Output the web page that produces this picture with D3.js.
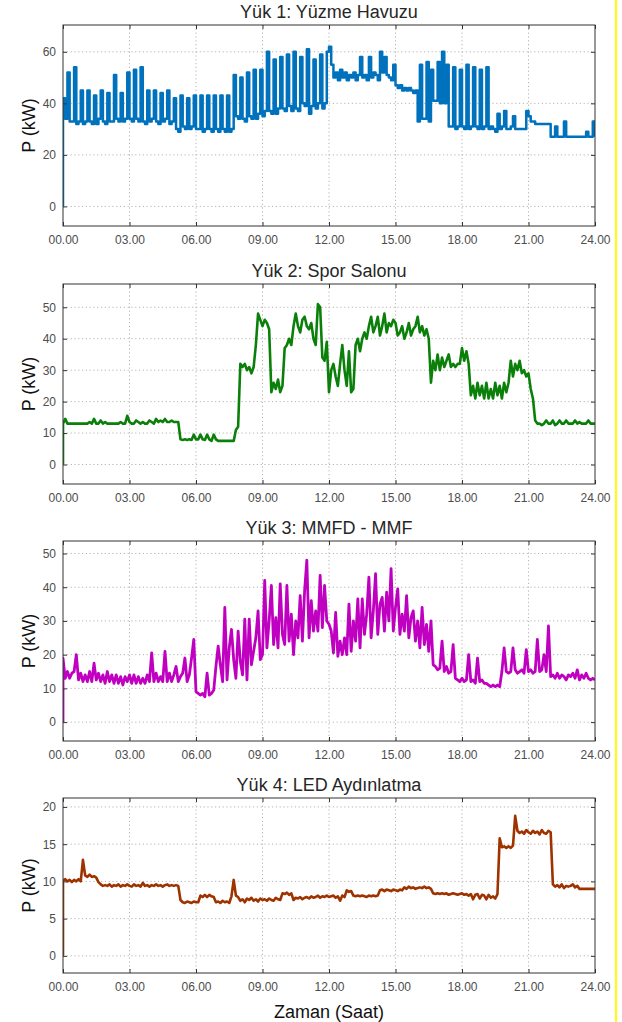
<!DOCTYPE html>
<html>
<head>
<meta charset="utf-8">
<script src="https://cdn.jsdelivr.net/npm/d3@7"></script>
<style>
  body { margin: 0; background: #fff; }
  svg { display: block; font-family: "Liberation Sans", Arial, sans-serif; }
  .tick text { fill: #4d4d4d; font-size: 12px; }
  .grid line { stroke: #b4b4b4; stroke-dasharray: 1.2 2.6; }
</style>
</head>
<body>
<svg id="chart" width="622" height="1022"></svg>
<script>
// sampled every 0.1 h, 00.00 .. 24.00 (241 values); each trace starts from 0 at t = 0
var startValue = 0;

var titles = ['Yük 1: Yüzme Havuzu', 'Yük 2: Spor Salonu', 'Yük 3: MMFD - MMF', 'Yük 4: LED Aydınlatma'];
var xTicks = [0, 3, 6, 9, 12, 15, 18, 21, 24];
var yTicks = [[0, 20, 40, 60], [0, 10, 20, 30, 40, 50], [0, 10, 20, 30, 40, 50], [0, 5, 10, 15, 20]];
var yLimits = [[-7.6, 70.4], [-6.2, 57.4], [-5.6, 53.7], [-2.3, 21.2]];

var pool = [
  42, 34, 52, 33, 33, 54, 32, 33, 45, 32,
  33, 45, 33, 32, 43, 32, 34, 45, 33, 32,
  44, 33, 33, 51, 34, 33, 44, 33, 34, 52,
  34, 33, 53, 34, 33, 54, 33, 32, 45, 33,
  34, 45, 33, 32, 44, 33, 34, 45, 32, 33,
  42, 30, 29, 43, 31, 30, 42, 30, 31, 43,
  30, 30, 43, 29, 30, 43, 30, 29, 43, 30,
  29, 43, 30, 29, 43, 29, 30, 51, 35, 34,
  50, 34, 33, 52, 35, 34, 53, 34, 36, 53,
  35, 37, 60, 37, 36, 57, 36, 38, 58, 38,
  37, 59, 39, 37, 60, 38, 37, 58, 40, 39,
  61, 36, 39, 57, 38, 40, 59, 38, 40, 60,
  62, 55, 50, 52, 49, 53, 50, 52, 49, 51,
  50, 52, 49, 51, 58, 50, 51, 49, 58, 50,
  52, 51, 49, 60, 52, 58, 51, 50, 49, 55,
  47, 46, 47, 45, 46, 45, 46, 45, 44, 45,
  33, 55, 34, 34, 56, 33, 53, 41, 41, 56,
  40, 60, 40, 55, 31, 31, 54, 30, 31, 53,
  31, 30, 55, 30, 31, 54, 31, 30, 53, 30,
  31, 54, 30, 31, 30, 29, 36, 30, 31, 37,
  30, 30, 31, 35, 30, 30, 30, 30, 30, 37,
  35, 33, 33, 32, 32, 32, 32, 32, 32, 32,
  27, 27, 31, 27, 27, 27, 33, 27, 27, 27,
  27, 27, 27, 27, 27, 27, 29, 27, 27, 33,
  27
];

var gym = [
  13, 14.5, 13, 13, 13, 13, 13, 13, 13, 13,
  13, 13, 13.5, 13, 14.5, 13, 13, 14, 13, 13.5,
  13, 13, 13, 13, 13, 13, 13.5, 13, 13, 15.5,
  13.5, 13, 13, 14, 13.5, 13, 13.5, 13, 13, 14,
  13.5, 13, 14.5, 13.5, 14, 13.5, 14.5, 13.5, 13.5, 14,
  13.5, 13.5, 13.5, 8, 7.8, 8, 7.8, 8, 7.8, 9.5,
  8, 8, 9.5, 8, 7.8, 9.5, 8, 7.5, 9.5, 8,
  7.5, 7.5, 7.5, 7.5, 7.5, 7.5, 7.5, 7.5, 11, 12,
  32, 31, 32, 30, 31, 29, 31, 38, 48, 46,
  44, 46, 45, 43, 23, 26, 24, 27, 23, 25,
  37, 38, 40, 38, 44, 48, 44, 42, 46, 47,
  44, 43, 45, 40, 38, 51, 50, 34, 33, 39,
  23, 30, 32, 28, 25, 32, 38, 30, 25, 36,
  23, 24, 38, 40, 36, 40, 42, 40, 44, 47,
  42, 44, 47, 41, 44, 48, 42, 45, 44, 46,
  45, 41, 42, 44, 40, 42, 45, 41, 43, 44,
  47, 42, 44, 41, 43, 40, 26, 33, 30, 35,
  30, 34, 31, 33, 35, 31, 32, 31, 32, 32,
  37, 33, 36, 32, 22, 25, 21, 26, 22, 25,
  21, 26, 21, 24, 21, 26, 22, 25, 21, 26,
  23, 26, 33, 28, 32, 30, 33, 29, 30, 28,
  29, 24, 21, 14, 13, 13, 12.5, 13, 14, 13,
  13, 14, 12.5, 13, 14, 13, 13, 14, 13, 13,
  13, 14, 13, 13.5, 13, 13, 13, 14, 13, 13,
  13
];

var mmfd = [
  19, 13, 15, 13, 14.5, 15, 20, 12.5, 14.5, 12,
  14, 12, 15, 12, 17.5, 12.5, 14.5, 12, 14, 11.5,
  15, 12, 14, 11.5, 14, 11.5, 13.5, 11, 13.5, 12,
  14, 11.5, 14, 11.5, 13.5, 11.5, 13, 11.5, 14, 12,
  20.5, 12, 14.5, 12, 13.5, 12, 21, 12, 14.5, 12,
  14, 16.5, 12, 13.5, 14.5, 19, 12, 14, 19, 24.5,
  9, 8.5, 8, 8.5, 7.5, 14.5, 8, 8.5, 9.5, 16.5,
  22.5, 17, 12, 34, 12.5, 22, 27.5, 18.5, 13, 27,
  18, 14, 30.5, 12.5, 30.5, 17, 21, 25, 33, 18.5,
  20, 42, 22, 30, 40.5, 23, 31, 22, 41, 26,
  23, 40.5, 24, 32, 20, 30, 25, 37.5, 24, 39,
  48, 25, 36, 27, 33, 27, 43.5, 28, 40.5, 30,
  29, 27, 20.5, 32.5, 19.5, 24, 20, 25, 20, 35,
  21, 30, 24, 36.5, 22, 36.5, 26, 32, 43, 25,
  33, 44, 26, 35, 37, 27, 38.5, 30, 45.5, 27,
  34, 39.5, 26, 32, 27, 37.5, 25, 31, 33, 24,
  30, 22, 34, 23, 29, 21, 30, 17, 16.5, 15.5,
  16, 24, 15, 16.5, 14.5, 15, 23, 13, 12.5, 12,
  13, 12, 12.5, 20, 12, 12.5, 11.5, 19, 12, 12.5,
  11.5, 11.5, 11, 10.5, 11, 10.5, 11, 10.5, 15, 22,
  15, 14.5, 15, 22, 15.5, 14.5, 15, 15.5, 14.5, 21.5,
  15, 15.5, 14.5, 15, 24.5, 15, 15.5, 20, 15, 28.5,
  13.5, 14, 13, 14.5, 13, 14, 13.5, 12.5, 14, 13.5,
  14.5, 13, 15.5, 12.5, 14, 13, 14.5, 13, 12.5, 13,
  12.5
];

var led = [
  10.1, 10.3, 10, 10.2, 9.9, 10.2, 10, 10.3, 10, 12.9,
  10.8, 10.6, 10.9, 10.6, 10.7, 10.5, 9.9, 9.6, 9.4, 9.5,
  9.4, 9.6, 9.3, 9.5, 9.4, 9.6, 9.3, 9.5, 9.4, 9.6,
  9.4, 9.3, 9.6, 9.4, 9.5, 9.3, 9.8, 9.4, 9.5, 9.3,
  9.5, 9.4, 9.6, 9.4, 9.5, 9.3, 9.5, 9.6, 9.4, 9.5,
  9.4, 9.5, 9.4, 7.5, 7.2, 7.1, 7.3, 7.2, 7.1, 7.3,
  7.2, 7.2, 8.1, 7.9, 8.2, 7.9, 8.2, 8.0, 7.9, 7.2,
  7.3, 7.1, 7.4, 7.2, 7.3, 7.1, 8.0, 10.2, 8.1, 7.9,
  7.4, 7.6, 7.2, 7.7, 7.5, 7.8, 7.4, 7.6, 7.3, 7.7,
  7.5, 7.6, 7.4, 7.7, 7.5, 7.4, 7.8, 7.6, 7.5, 8.4,
  8.3, 8.5, 8.2, 8.4, 7.5, 7.8, 7.7, 7.9, 7.6, 7.8,
  7.9, 7.7, 8.0, 7.8, 7.9, 8.1, 7.8, 8.0, 7.9, 8.1,
  7.9, 8.0, 8.1, 7.8, 8.0, 7.4, 8.1, 7.9, 8.8, 8.6,
  8.7, 8.1, 8.0, 8.1, 8.0, 8.1, 8.0, 7.9, 8.1, 8.0,
  8.1, 8.0, 8.1, 8.8, 8.9, 8.7, 8.9, 8.8, 8.7, 8.9,
  8.8, 8.7, 8.9, 8.8, 9.2, 9.0, 9.3, 9.1, 9.2, 9.0,
  9.1, 9.2, 9.1, 9.3, 9.1, 9.2, 9.0, 8.4, 8.3, 8.4,
  8.3, 8.4, 8.3, 8.4, 8.2, 8.3, 8.4, 8.3, 8.2, 8.3,
  8.4, 8.2, 8.3, 8.1, 8.3, 7.6, 8.2, 8.3, 7.7, 8.2,
  8.1, 7.6, 8.2, 7.8, 8.0, 7.7, 8.3, 15.8, 14.6, 14.7,
  14.5, 14.7, 14.5, 14.8, 18.8, 16.8, 16.5, 16.7, 16.4, 16.9,
  16.6, 16.4, 16.8, 16.5, 16.7, 16.3, 16.9, 16.5, 16.4, 16.8,
  16.6, 9.6, 9.3, 9.5, 9.2, 9.6, 9.1, 9.4, 9.3, 9.4,
  9.6, 9.2, 9.4, 9.0, 9.0, 9.0, 9.0, 9.0, 9.0, 9.0,
  9.0
];

var series = [pool, gym, mmfd, led];

// layout / style (kept apart from the data)
var colors = ['#0072bd', '#0a800a', '#c000c0', '#9e3300'];
var curves = [d3.curveStepAfter, d3.curveLinear, d3.curveLinear, d3.curveLinear];
var widths = [2.5, 2.6, 2.8, 2.6];
var tops = [25, 284, 541, 798];
var bottoms = [226, 484, 741, 973];
var left = 63, right = 595;

var svg = d3.select('#chart');

svg.append('rect')
    .attr('width', 622)
    .attr('height', 1022)
    .attr('fill', '#fff');

var x = d3.scaleLinear().domain([0, 24]).range([left, right]);

function fmtHour(h) {
    return (h < 10 ? '0' : '') + h + '.00';
}

series.forEach(function(vals, k) {
    var top = tops[k], bottom = bottoms[k];
    var y = d3.scaleLinear().domain(yLimits[k]).range([bottom, top]);
    var g = svg.append('g');

    // grid
    var grid = g.append('g').attr('class', 'grid');
    grid.selectAll('.gx')
        .data(xTicks.slice(1, -1))
        .enter().append('line')
        .attr('x1', function(d) { return x(d); })
        .attr('x2', function(d) { return x(d); })
        .attr('y1', top)
        .attr('y2', bottom);
    grid.selectAll('.gy')
        .data(yTicks[k])
        .enter().append('line')
        .attr('x1', left)
        .attr('x2', right)
        .attr('y1', function(d) { return y(d); })
        .attr('y2', function(d) { return y(d); });

    // trace
    var clipId = 'clip' + k;
    g.append('clipPath').attr('id', clipId)
        .append('rect')
        .attr('x', left).attr('y', top)
        .attr('width', right - left).attr('height', bottom - top);

    var pts = [{ t: 0, v: startValue }].concat(vals.map(function(v, i) {
        return { t: i / 10, v: v };
    }));

    var line = d3.line()
        .x(function(d) { return x(d.t); })
        .y(function(d) { return y(d.v); })
        .curve(curves[k]);

    g.append('path')
        .datum(pts)
        .attr('clip-path', 'url(#' + clipId + ')')
        .attr('d', line)
        .attr('fill', 'none')
        .attr('stroke', colors[k])
        .attr('stroke-width', widths[k])
        .attr('stroke-linejoin', 'round');

    // axes, ticks pointing inward like the original
    var axL = g.append('g').attr('transform', 'translate(' + left + ',0)')
        .call(d3.axisLeft(y).tickValues(yTicks[k]).tickSize(-4).tickPadding(7));
    var axR = g.append('g').attr('transform', 'translate(' + right + ',0)')
        .call(d3.axisRight(y).tickValues(yTicks[k]).tickSize(-4).tickFormat(''));
    var axB = g.append('g').attr('transform', 'translate(0,' + bottom + ')')
        .call(d3.axisBottom(x).tickValues(xTicks).tickSize(-4).tickPadding(9).tickFormat(fmtHour));
    var axT = g.append('g').attr('transform', 'translate(0,' + top + ')')
        .call(d3.axisTop(x).tickValues(xTicks).tickSize(-4).tickFormat(''));

    [axL, axR, axB, axT].forEach(function(a) {
        a.select('.domain').remove();
        a.selectAll('.tick line').attr('stroke', '#333');
    });

    // box
    g.append('rect')
        .attr('x', left).attr('y', top)
        .attr('width', right - left).attr('height', bottom - top)
        .attr('fill', 'none')
        .attr('stroke', '#333')
        .attr('stroke-width', 1);

    // title
    g.append('text')
        .attr('x', (left + right) / 2)
        .attr('y', top - 7)
        .attr('text-anchor', 'middle')
        .attr('font-size', 18)
        .attr('fill', '#262626')
        .text(titles[k]);

    // y label
    g.append('text')
        .attr('transform', 'translate(35,' + ((top + bottom) / 2) + ') rotate(-90)')
        .attr('text-anchor', 'middle')
        .attr('font-size', 18)
        .attr('fill', '#111')
        .text('P (kW)');
});

svg.append('text')
    .attr('x', (left + right) / 2)
    .attr('y', 1018)
    .attr('text-anchor', 'middle')
    .attr('font-size', 18)
    .attr('fill', '#111')
    .text('Zaman (Saat)');

// yellow strip at the right edge of the original figure
svg.append('line')
    .attr('x1', 616).attr('x2', 616)
    .attr('y1', 0).attr('y2', 1022)
    .attr('stroke', '#ffff00')
    .attr('stroke-width', 2);
</script>
</body>
</html>
